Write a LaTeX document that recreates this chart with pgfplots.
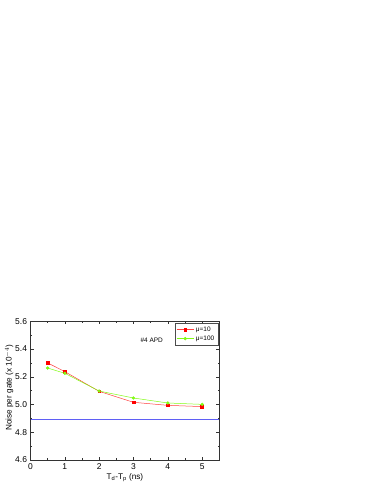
\documentclass[border=0pt]{standalone}
\usepackage{fontspec}
\setmainfont{Liberation Sans}
\usepackage{pgfplots}
\pgfplotsset{compat=1.18}

\definecolor{redser}{RGB}{255,0,0}
\definecolor{greenser}{RGB}{130,250,20}
\definecolor{blueline}{RGB}{95,95,245}

\begin{document}
\begin{tikzpicture}[x=1bp,y=1bp]
\path[use as bounding box] (0,0) rectangle (374,484);
\begin{axis}[
  at={(30.5bp,24bp)}, anchor=south west,
  scale only axis, width=188.8bp, height=138.7bp,
  xmin=0, xmax=5.5, ymin=4.6, ymax=5.6,
  xtick={0,1,2,3,4,5}, ytick={4.6,4.8,5.0,5.2,5.4,5.6},
  minor x tick num=1, minor y tick num=1,
  tick align=inside, ticks=both,
  major tick length=3bp, minor tick length=1.8bp,
  axis line style={black!80, line width=0.8pt},
  tick style={black!80, line width=0.5pt},
  yticklabel style={/pgf/number format/.cd, fixed, fixed zerofill, precision=1},
  /pgf/number format/assume math mode=true,
  tick label style={font=\fontsize{8.5}{9}\selectfont},
  label style={font=\fontsize{8.2}{9}\selectfont},
  xlabel={T$_\mathrm{d}$-T$_\mathrm{p}$ (ns)},
  ylabel={Noise per gate (x 10$^{-4}$)},
  xlabel style={yshift=3bp},
  ylabel style={yshift=-5bp, xshift=3bp},
  legend style={font=\fontsize{6.5}{7}\selectfont, at={(0.993,0.988)}, anchor=north east,
    draw=black!70, line width=0.4pt, inner sep=1.5pt, row sep=-1pt},
  legend cell align=left,
]
\addplot[color=redser!75, line width=0.5pt, mark=square*, mark size=1.4pt,
  mark options={fill=redser, draw=redser}]
  coordinates {(0.5,5.300) (1,5.237) (2,5.095) (3,5.016) (4,4.994) (5,4.985)};
\addlegendentry{μ=10}
\addplot[color=greenser, line width=0.5pt, mark=*, mark size=1.4pt,
  mark options={fill=greenser, draw=greenser}]
  coordinates {(0.5,5.263) (1,5.225) (2,5.097) (3,5.047) (4,5.011) (5,5.001)};
\addlegendentry{μ=100}
\addplot[color=blueline, line width=0.8pt, mark=none, forget plot]
  coordinates {(0,4.893) (5.5,4.893)};
\node[font=\fontsize{6.5}{7}\selectfont] at (axis cs:3.53,5.465) {\#4 APD};
\end{axis}
\end{tikzpicture}
\end{document}
